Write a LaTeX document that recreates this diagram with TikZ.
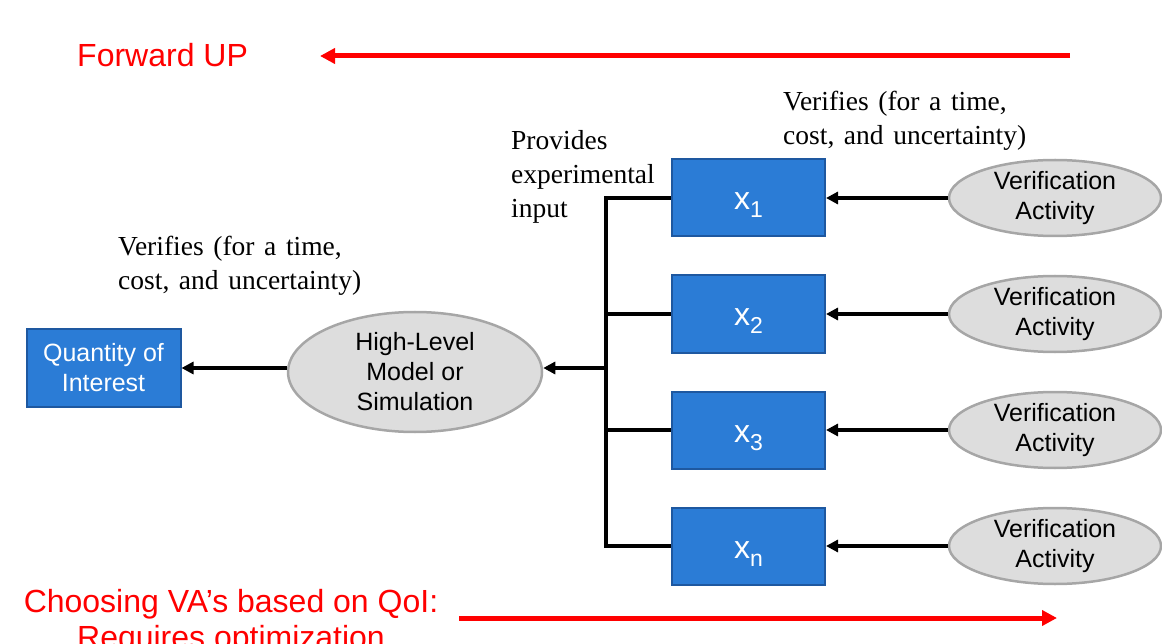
\documentclass[tikz,border=0pt]{standalone}
\usepackage{fontspec}
\usetikzlibrary{arrows.meta,shapes.geometric}
\newfontfamily\sansfam{Liberation Sans}
\newfontfamily\seriffam[WordSpace=1.4]{Liberation Serif}
\definecolor{boxblue}{RGB}{43,124,214}
\definecolor{boxedge}{RGB}{30,88,160}
\definecolor{ovalfill}{RGB}{221,221,221}
\definecolor{ovaledge}{RGB}{166,166,166}
% variable name with a lowered index
\newcommand\xsub[1]{{\fontsize{32}{32}\selectfont x}\raisebox{-8pt}{\fontsize{23}{23}\selectfont #1}}

\begin{document}
\begin{tikzpicture}[x=1pt,y=-1pt,
  bluebox/.style={draw=boxedge, line width=2pt, fill=boxblue, text=white,
    minimum width=153pt, minimum height=77pt, inner sep=0pt, align=center},
  oval/.style={ellipse, draw=ovaledge, line width=2.5pt, fill=ovalfill,
    inner sep=0pt, align=center},
  lbl/.style={font=\sansfam\fontsize{25}{30}\selectfont},
  note/.style={font=\seriffam\fontsize{27.5}{34}\selectfont, align=left,
    inner sep=0pt, anchor=base west},
  wire/.style={line width=3.5pt, line join=miter},
  feed/.style={line width=3.5pt, -{Triangle[length=12pt,width=12pt]}},
  redarrow/.style={red, line width=5pt, -{Triangle[length=15pt,width=15pt]}},
  redtext/.style={text=red, font=\sansfam\fontsize{32}{36}\selectfont,
    inner sep=0pt, align=center}]

\useasboundingbox (0,0) rectangle (1162,644);

% direction banners
\node[redtext, anchor=base west] (fwd) at (77,67) {Forward UP};
\coordinate (fwdA) at (1070,56);
\coordinate (fwdB) at (320,56);
\draw[redarrow] (fwdA) -- (fwdB);

\node[redtext, anchor=base] (choose) at (231,648)
  {Choosing VA’s based on QoI:\\Requires optimization};
\coordinate (optA) at (459,618);
\coordinate (optB) at (1057,618);
\draw[redarrow] (optA) -- (optB);

% quantity of interest and the high-level model
\node[bluebox, lbl, minimum width=154pt] (qoi) at (103.5,368) {Quantity of\\Interest};
\node[oval, lbl, minimum width=254pt, minimum height=120pt] (hl) at (415,372)
  {High-Level\\Model or\\Simulation};

% inputs
\foreach \i/\y/\s in {1/198/1, 2/314/2, 3/430/3, 4/546/n}{
  \node[bluebox, text height=24pt, text depth=0pt] (x\i) at (748.5,\y)
    {\sansfam\xsub{\s}};
  \node[oval, lbl, minimum width=212pt, minimum height=76pt] (va\i) at (1055,\y)
    {Verification\\Activity};
  \draw[feed] (va\i) -- (x\i);
  \coordinate (b\i) at (606,\y);
}

% bus collecting the inputs
\draw[wire] (x1.west) -- (b1) -- (b4) -- (x4.west);
\draw[wire] (b2) -- (x2.west);
\draw[wire] (b3) -- (x3.west);
\coordinate (hub) at (606,368);
\draw[feed] (hub) -- (hub -| hl.east);
\draw[feed] (hl.west |- hub) -- (hub -| qoi.east);

% annotations (anchored at the baseline of their last line)
\node[note] (verTop) at (783,145) {Verifies (for a time,\\cost, and uncertainty)};
\node[note] (verLeft) at (118,290) {Verifies (for a time,\\cost, and uncertainty)};
\node[note] (prov) at (511,218) {Provides\\experimental\\input};

\end{tikzpicture}
\end{document}
